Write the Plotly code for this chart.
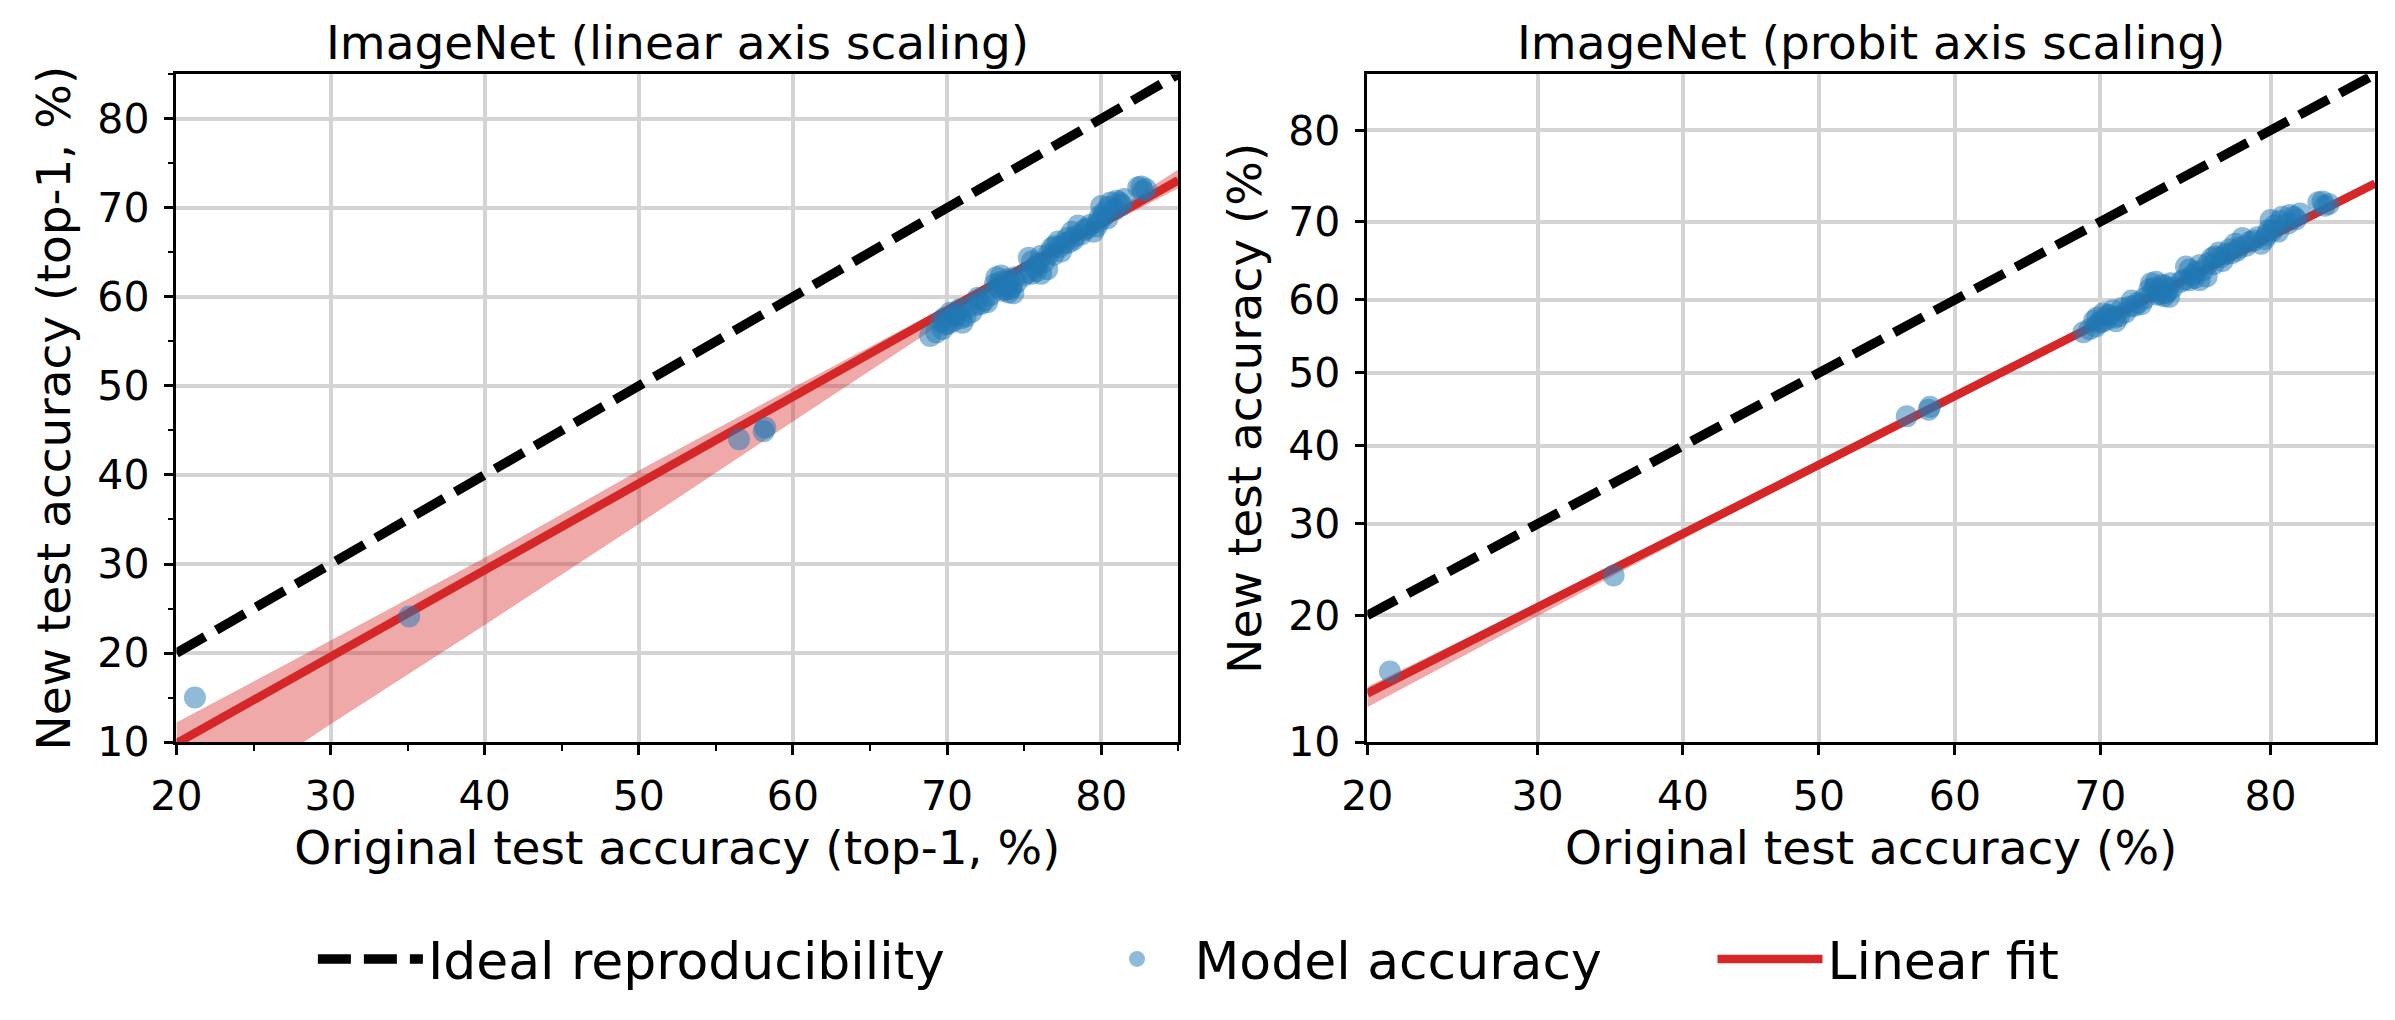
from statistics import NormalDist
import plotly.graph_objects as go

# model accuracies (%) on original ImageNet vs. the new test set
orig_acc = [21.2, 35.1, 56.5, 58.1, 58.2,
            68.9, 69.3, 69.6, 69.7, 69.8, 69.9, 70.1, 70.2, 70.4, 70.5,
            70.6, 70.8, 70.9, 71.0, 71.2, 71.4, 71.6, 71.9, 72.0, 72.2,
            72.4, 72.6, 72.8, 73.1, 73.2, 73.3, 73.4, 73.5, 73.6, 73.7,
            73.8, 73.9, 74.0, 74.0, 74.1, 74.2, 74.3, 74.4, 74.5, 75.0,
            75.2, 75.3, 75.5, 75.5, 75.7, 75.8, 75.9, 76.1, 76.1, 76.3,
            76.5, 76.6, 76.8, 76.9, 77.0, 77.2, 77.3, 77.4, 77.6, 77.8,
            77.9, 78.1, 78.2, 78.3, 78.5, 78.7, 78.9, 79.1, 79.3, 79.5,
            79.7, 79.8, 79.9, 80.0, 80.1, 80.2, 80.4, 80.5, 80.6, 80.9,
            81.0, 81.2, 81.3, 81.5, 82.4, 82.6, 82.7, 82.9]
new_acc = [15.0, 24.1, 44.0, 44.9, 45.3,
           55.6, 56.0, 57.2, 56.4, 57.6, 56.9, 57.0, 58.2, 57.3, 58.0,
           57.9, 58.6, 57.6, 57.1, 57.8, 58.9, 58.3, 59.1, 59.9, 59.2,
           59.6, 59.4, 60.2, 61.4, 62.2, 61.1, 61.6, 62.4, 60.7, 61.3,
           60.8, 62.0, 61.8, 60.5, 60.9, 61.1, 60.4, 62.2, 61.6, 62.4,
           62.7, 64.4, 64.0, 62.6, 63.3, 62.9, 63.7, 62.6, 64.6, 63.9,
           63.1, 64.8, 65.5, 64.7, 65.7, 66.2, 65.6, 65.1, 66.0, 66.6,
           66.1, 67.3, 66.4, 66.8, 68.0, 67.0, 67.5, 67.7, 68.1, 67.3,
           67.9, 68.4, 69.0, 70.2, 68.9, 69.5, 68.8, 70.1, 70.6, 69.8,
           70.8, 70.6, 70.3, 71.0, 72.3, 72.4, 71.9, 72.1]

ideal_x = [20, 85]
ideal_y = [20, 85]

# fit and confidence band, linear scaling
lin_fit_x = [20, 30, 40, 50, 60, 70, 75, 80, 85]
lin_fit_y = [9.85, 19.6, 29.3, 39.0, 48.8, 58.5, 63.4, 68.2, 73.1]
lin_upper = [12.2, 21.4, 30.7, 40.5, 49.8, 59.0, 63.7, 68.7, 74.3]
lin_lower = [0.5, 12.0, 23.15, 34.5, 46.0, 57.4, 62.9, 67.7, 72.2]

# fit and confidence band, probit scaling
probit_fit_x = [20, 35, 50, 70, 85]
probit_fit_y = [13.3, 24.8, 37.5, 56.9, 74.45]
probit_upper = [13.8, 25.1, 37.7, 57.0, 74.7]
probit_lower = [12.3, 24.0, 37.1, 56.7, 74.2]

x_ticks = [20, 30, 40, 50, 60, 70, 80]
y_ticks = [10, 20, 30, 40, 50, 60, 70, 80]


def probit(vals):
    return [NormalDist().inv_cdf(v / 100) for v in vals]


FONT = "DejaVu Sans"
BLUE = "#1f77b4"
RED = "#d62728"
BAND = "rgba(214,39,40,0.4)"

fig = go.Figure()

panels = [
    ("x", "y", lambda v: v, lin_fit_x, lin_fit_y, lin_upper, lin_lower),
    ("x2", "y2", probit, probit_fit_x, probit_fit_y, probit_upper, probit_lower),
]
for i, (xa, ya, tf, fx, fy, up, lo) in enumerate(panels):
    first = i == 0
    fig.add_trace(go.Scatter(x=tf(fx), y=tf(lo), xaxis=xa, yaxis=ya, mode="lines",
                             line=dict(width=0), hoverinfo="skip", showlegend=False))
    fig.add_trace(go.Scatter(x=tf(fx), y=tf(up), xaxis=xa, yaxis=ya, mode="lines",
                             line=dict(width=0), fill="tonexty", fillcolor=BAND,
                             hoverinfo="skip", showlegend=False))
    fig.add_trace(go.Scatter(x=tf(ideal_x), y=tf(ideal_y), xaxis=xa, yaxis=ya,
                             mode="lines", name="Ideal reproducibility",
                             line=dict(color="black", width=9.5, dash="33px,13px"),
                             showlegend=first, legend="legend"))
    fig.add_trace(go.Scatter(x=tf(fx), y=tf(fy), xaxis=xa, yaxis=ya, mode="lines",
                             name="Linear fit", line=dict(color=RED, width=8.5),
                             showlegend=first, legend="legend3"))
    fig.add_trace(go.Scatter(x=tf(orig_acc), y=tf(new_acc), xaxis=xa, yaxis=ya,
                             mode="markers", name="Model accuracy",
                             marker=dict(color=BLUE, size=22, opacity=0.5,
                                         line=dict(width=0)),
                             showlegend=first, legend="legend2"))

axis_common = dict(showline=True, linecolor="black", linewidth=2.5, mirror=True,
                   ticks="outside", ticklen=10, tickwidth=2.5, tickcolor="black",
                   showgrid=True, gridcolor="#d4d4d4", gridwidth=3.5,
                   zeroline=False, tickfont=dict(family=FONT, size=41, color="black"),
                   ticklabelstandoff=6)
minor = dict(dtick=5, ticks="outside", ticklen=6, tickwidth=2, tickcolor="black",
             showgrid=False)

x_title_1 = "Original test accuracy (top-1, %)"
y_title_1 = "New test accuracy (top-1, %)"
x_title_2 = "Original test accuracy (%)"
y_title_2 = "New test accuracy (%)"
title_font = dict(family=FONT, size=47, color="black")

fig.update_layout(
    width=2395, height=1020,
    margin=dict(l=0, r=0, t=0, b=0),
    plot_bgcolor="white", paper_bgcolor="white",
    font=dict(family=FONT, color="black"),
    xaxis=dict(domain=[0.0635, 0.4864], range=[20, 85], tickvals=x_ticks,
               minor=minor, anchor="y",
               title=dict(text=x_title_1, font=title_font, standoff=12),
               **axis_common),
    yaxis=dict(domain=[0.2549, 0.9255], range=[10, 85], tickvals=y_ticks,
               minor=minor, anchor="x",
               title=dict(text=y_title_1, font=title_font, standoff=12),
               **axis_common),
    xaxis2=dict(domain=[0.5662, 0.9916], range=probit([20, 85]),
                tickvals=probit(x_ticks), ticktext=[str(v) for v in x_ticks],
                anchor="y2",
                title=dict(text=x_title_2, font=title_font, standoff=12),
                **axis_common),
    yaxis2=dict(domain=[0.2549, 0.9255], range=probit([10, 85]),
                tickvals=probit(y_ticks), ticktext=[str(v) for v in y_ticks],
                anchor="x2",
                title=dict(text=y_title_2, font=title_font, standoff=12),
                **axis_common),
    annotations=[
        dict(text="ImageNet (linear axis scaling)", x=0.2749, y=0.9569,
             xref="paper", yref="paper", showarrow=False, font=title_font,
             xanchor="center", yanchor="middle"),
        dict(text="ImageNet (probit axis scaling)", x=0.7789, y=0.9569,
             xref="paper", yref="paper", showarrow=False, font=title_font,
             xanchor="center", yanchor="middle"),
    ],
)

legend_common = dict(font=dict(family=FONT, size=52, color="black"),
                     bgcolor="rgba(0,0,0,0)", yanchor="middle", y=0.037,
                     xanchor="left", itemwidth=105)
fig.update_layout(
    legend=dict(x=0.1211, **legend_common),
    legend2=dict(x=0.4447, **legend_common),
    legend3=dict(x=0.7119, **legend_common),
)

# drop the default page margin so the figure fills the window exactly
fig.write_html("out.html", config={"displayModeBar": False},
               post_script="document.body.style.margin='0px';"
                           "document.body.style.overflow='hidden';")
